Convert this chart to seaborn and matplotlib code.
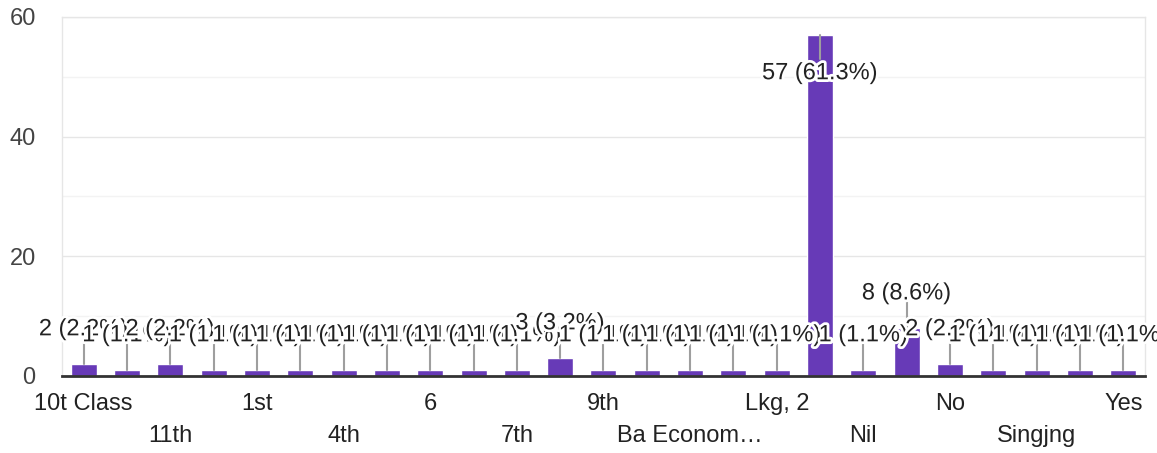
import matplotlib
matplotlib.use('Agg')
import matplotlib.pyplot as plt
import matplotlib.patheffects as pe
import pandas as pd
import seaborn as sns

sns.set_style('white')
plt.rcParams['font.family'] = ['Liberation Sans', 'DejaVu Sans']

# answers (alphabetical, as the form lists them) and response counts
answers = ['10t Class', '10th', '11th', '12th', '1st', '3rd', '4th', '5th', '6', '6th',
           '7th', '8th', '9th', 'Arts', 'Ba Econom…', 'Class 5', 'Lkg, 2', 'NA', 'Nil',
           'Nill', 'No', 'Reading', 'Singjng', 'Sports', 'Yes']
counts = [2, 1, 2, 1, 1, 1, 1, 1, 1, 1,
          1, 3, 1, 1, 1, 1, 1, 57, 1,
          8, 2, 1, 1, 1, 1]
y_ticks = [0, 20, 40, 60]

df = pd.DataFrame({'answer': answers, 'count': counts})
total = sum(counts)

fig, ax = plt.subplots(figsize=(11.57, 4.53), dpi=100)
fig.subplots_adjust(left=0.0536, right=0.9896, bottom=0.170, top=0.9625)

sns.barplot(data=df, x='answer', y='count', color='#673ab7', saturation=1,
            width=0.6, ax=ax)

ax.set_ylim(0, 60)
ax.set_xlim(-0.5, len(answers) - 0.5)
ax.set_yticks(y_ticks)
ax.set_yticks([10, 30, 50], minor=True)
ax.grid(axis='y', which='major', color='#e6e6e6', lw=1)
ax.grid(axis='y', which='minor', color='#f3f3f3', lw=1)
ax.set_axisbelow(True)

for side in ['top', 'left', 'right']:
    ax.spines[side].set_color('#e6e6e6')
    ax.spines[side].set_linewidth(1)
ax.spines['bottom'].set_color('#333333')
ax.spines['bottom'].set_linewidth(2)

# only every other category label is shown, staggered on two rows
labels = []
for i, name in enumerate(answers):
    if i % 2:
        labels.append('')
    elif (i // 2) % 2 == 0:
        labels.append(name)
    else:
        labels.append('\n' + name)
ax.set_xticks(range(len(answers)))
ax.set_xticklabels(labels, fontsize=17, color='#222222')
for t in ax.get_xticklabels():
    t.set_linespacing(1.6)
ax.tick_params(axis='x', length=0, pad=12)
ax.tick_params(axis='y', which='both', length=0, pad=19, labelsize=17, labelcolor='#444444')
ax.set_xlabel('')
ax.set_ylabel('')

halo = [pe.withStroke(linewidth=4, foreground='white')]
for i, n in enumerate(counts):
    txt = f'{n} ({n / total * 100:.1f}%)'
    if n + 6 < 58:
        ty = n + 5.8
        ax.plot([i, i], [n, ty - 1.5], color='#9e9e9e', lw=1.5, zorder=3)
    else:
        ty = n - 6.4
        ax.plot([i, i], [n, ty + 2.4], color='#9e9e9e', lw=1.5, zorder=3)
    ax.text(i, ty, txt, ha='center', va='center', fontsize=17, color='#222222',
            path_effects=halo, zorder=4)

fig.savefig('out.png', dpi=100)
